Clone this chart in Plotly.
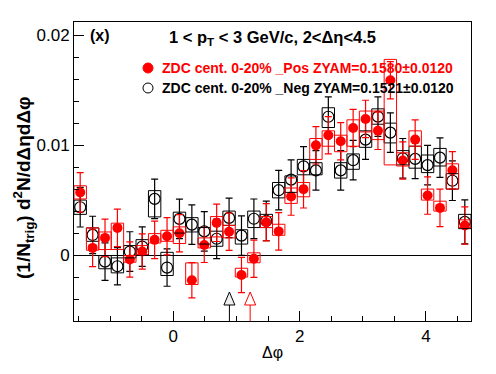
import numpy as np
import plotly.graph_objects as go

# ---- data ----
n_bins = 32
bin_edges = np.linspace(-np.pi / 2, 3 * np.pi / 2, n_bins + 1)
dphi = 0.5 * (bin_edges[:-1] + bin_edges[1:])

pos_y = [0.0057, 0.00065, 0.00156, 0.00247, -0.00041, 0.00032, 0.00138, 0.00171,
         0.00198, -0.00229, 0.00092, 0.00293, 0.00212, -0.00182, -0.00034, 0.00298,
         0.00215, 0.00532, 0.00598, 0.00998, 0.0109, 0.01035, 0.01156, 0.01238,
         0.0113, 0.0159, 0.0086, 0.0105, 0.00541, 0.00429, 0.00771, 0.00268]
pos_err = [0.0018, 0.0017, 0.0017, 0.0017, 0.0016, 0.0016, 0.0017, 0.0017,
           0.0017, 0.0016, 0.0016, 0.0017, 0.0017, 0.0016, 0.0017, 0.0017,
           0.0017, 0.0017, 0.0017, 0.0017, 0.0017, 0.0017, 0.0017, 0.0017,
           0.0017, 0.0017, 0.0017, 0.0018, 0.0017, 0.0017, 0.0017, 0.0017]
pos_sys_lo = [0.0051, 0.00044, 0.0005, 0.0005, -0.00065, 0.00005, 0.0011, 0.00125,
              0.00105, -0.00268, 0.00065, 0.00165, 0.00156, -0.002, -0.0007, 0.0025,
              0.0018, 0.0047, 0.0053, 0.0087, 0.0099, 0.0094, 0.0099, 0.0112,
              0.0105, 0.0082, 0.0081, 0.0099, 0.005, 0.004, 0.006, 0.0025]
pos_sys_hi = [0.0063, 0.00247, 0.0021, 0.0029, -0.00005, 0.00086, 0.00195, 0.00225,
              0.00256, -0.00071, 0.00156, 0.0035, 0.0027, -0.0012, 0.0002, 0.0035,
              0.0028, 0.0061, 0.0066, 0.0106, 0.0113, 0.0109, 0.0123, 0.0131,
              0.0131, 0.0178, 0.0093, 0.0113, 0.006, 0.0049, 0.0083, 0.0032]

neg_y = [0.00435, 0.00183, -0.0006, -0.00102, 0.00032, 0.00077, 0.00511, -0.00114,
         0.00329, 0.00277, 0.00215, 0.00148, 0.00338, 0.00177, 0.0033, 0.0031,
         0.0059, 0.00686, 0.00807, 0.0077, 0.01258, 0.0077, 0.00863, 0.0105,
         0.01259, 0.01114, 0.0088, 0.00875, 0.00818, 0.00886, 0.00676, 0.00302]
neg_err = [0.0018, 0.0017, 0.0017, 0.0017, 0.0018, 0.0018, 0.0018, 0.0017,
           0.0018, 0.0018, 0.0018, 0.0018, 0.0018, 0.0018, 0.0018, 0.0018,
           0.0018, 0.0018, 0.0018, 0.0018, 0.0018, 0.0018, 0.0018, 0.0018,
           0.0018, 0.0018, 0.0018, 0.0018, 0.0018, 0.0018, 0.0018, 0.002]
neg_sys_lo = [0.0037, 0.00125, -0.00125, -0.00162, -0.00026, 0.0, 0.00347, -0.00186,
              0.002, 0.0021, 0.001, 0.0008, 0.0027, 0.001, 0.0025, 0.0025,
              0.0052, 0.0057, 0.0073, 0.0073, 0.0116, 0.007, 0.0078, 0.0098,
              0.0119, 0.0102, 0.0082, 0.0079, 0.0075, 0.0081, 0.006, 0.0024]
neg_sys_hi = [0.005, 0.00247, -0.00005, -0.00026, 0.00086, 0.0014, 0.00586, 0.00025,
              0.0039, 0.0034, 0.0025, 0.00217, 0.004, 0.0023, 0.004, 0.0037,
              0.0066, 0.0072, 0.0087, 0.0084, 0.0134, 0.0084, 0.0092, 0.0113,
              0.0133, 0.012, 0.0095, 0.0099, 0.0091, 0.0097, 0.0074, 0.0037]

zyam_pos_x = 1.217
zyam_neg_x = 0.889

pos_label = "ZDC cent. 0-20% _Pos ZYAM=0.1580\u00b10.0120"
neg_label = "ZDC cent. 0-20% _Neg ZYAM=0.1521\u00b10.0120"

RED = "#ff0000"
BLK = "#000000"
FONT = "Liberation Sans"

# plot-area pixel geometry (relative to window), used for paper-fraction placement of text
PX0, PX1, PY0, PY1 = 74, 471, 22, 321


def px(x):
    return (x - PX0) / (PX1 - PX0)


def py(y):
    return (PY1 - y) / (PY1 - PY0)


fig = go.Figure()

shapes = []
half_w = (bin_edges[1] - bin_edges[0]) / 2
for xc, lo, hi in zip(dphi, neg_sys_lo, neg_sys_hi):
    shapes.append(dict(type="rect", xref="x", yref="y", x0=xc - half_w, x1=xc + half_w,
                       y0=lo, y1=hi, line=dict(color=BLK, width=1), fillcolor="rgba(0,0,0,0)",
                       layer="above"))
for xc, lo, hi in zip(dphi, pos_sys_lo, pos_sys_hi):
    shapes.append(dict(type="rect", xref="x", yref="y", x0=xc - half_w, x1=xc + half_w,
                       y0=lo, y1=hi, line=dict(color=RED, width=1), fillcolor="rgba(0,0,0,0)",
                       layer="above"))

# ZYAM arrows (line from axis up, then triangle)
for xz, col, fill in [(zyam_neg_x, BLK, "#eeeeee"), (zyam_pos_x, RED, "#ffffff")]:
    shapes.append(dict(type="path", xref="x", yref="paper", xsizemode="pixel", ysizemode="pixel",
                       xanchor=xz, yanchor=0, path="M0,0 L0,16",
                       line=dict(color=col, width=1)))
    shapes.append(dict(type="path", xref="x", yref="paper", xsizemode="pixel", ysizemode="pixel",
                       xanchor=xz, yanchor=0, path="M-5.5,16 L5.5,16 L0,29 Z",
                       line=dict(color=col, width=1), fillcolor=fill))

# legend markers
shapes.append(dict(type="circle", xref="paper", yref="paper", xsizemode="pixel", ysizemode="pixel",
                   xanchor=px(148), yanchor=py(68),
                   x0=-5, x1=5, y0=-5, y1=5, fillcolor=RED, line=dict(color=RED, width=1)))
shapes.append(dict(type="circle", xref="paper", yref="paper", xsizemode="pixel", ysizemode="pixel",
                   xanchor=px(148), yanchor=py(88),
                   x0=-5, x1=5, y0=-5, y1=5, fillcolor="rgba(0,0,0,0)", line=dict(color=BLK, width=1)))

fig.add_trace(go.Scatter(
    x=dphi, y=neg_y, mode="markers",
    marker=dict(symbol="circle-open", size=11, color=BLK, line=dict(width=1.2)),
    error_y=dict(type="data", array=neg_err, visible=True, color=BLK, thickness=1.2, width=3.5),
    showlegend=False))
fig.add_trace(go.Scatter(
    x=dphi, y=pos_y, mode="markers",
    marker=dict(symbol="circle", size=10, color=RED),
    error_y=dict(type="data", array=pos_err, visible=True, color=RED, thickness=1.2, width=3.5),
    showlegend=False))

annotations = [
    dict(text="<b>(x)</b>", xref="paper", yref="paper", x=px(88), y=py(36),
         xanchor="left", yanchor="middle", showarrow=False, font=dict(family=FONT, size=16, color=BLK)),
    dict(text="<b>1 < p<sub>T</sub> < 3 GeV/c, 2<\u0394\u03b7<4.5</b>", xref="paper", yref="paper",
         x=px(167), y=py(38), xanchor="left", yanchor="middle", showarrow=False,
         font=dict(family=FONT, size=16.5, color=BLK)),
    dict(text="<b>" + pos_label + "</b>", xref="paper", yref="paper", x=px(160),
         y=py(68), xanchor="left", yanchor="middle", showarrow=False,
         font=dict(family=FONT, size=14, color=RED)),
    dict(text="<b>" + neg_label + "</b>", xref="paper", yref="paper", x=px(160),
         y=py(88), xanchor="left", yanchor="middle", showarrow=False,
         font=dict(family=FONT, size=14, color=BLK)),
    dict(text="<b>(1/N<sub>trig</sub>) d<sup>2</sup>N/d\u0394\u03b7d\u0394\u03c6</b>", xref="paper",
         yref="paper", x=px(23), y=py(188), xanchor="center", yanchor="middle",
         textangle=-90, showarrow=False, font=dict(family=FONT, size=19, color=BLK)),
    dict(text="\u0394\u03c6", xref="paper", yref="paper", x=px(272), y=py(352),
         xanchor="center", yanchor="middle", showarrow=False, font=dict(family=FONT, size=16, color=BLK)),
]

# the page body has an 8px margin, so the figure is sized to fit the window inside it
fig.update_layout(
    width=488, height=366,
    margin=dict(l=PX0 - 8, r=496 - PX1, t=PY0 - 8, b=374 - PY1),
    paper_bgcolor="white", plot_bgcolor="white",
    font=dict(family=FONT, size=14, color=BLK),
    shapes=shapes, annotations=annotations, showlegend=False,
    xaxis=dict(range=[-np.pi / 2, 3 * np.pi / 2], tickvals=[0, 2, 4], ticktext=["0", "2", "4"],
               ticks="inside", ticklen=10, tickcolor=BLK, tickwidth=1,
               minor=dict(dtick=0.5, tick0=0, ticks="inside", ticklen=5, tickcolor=BLK, tickwidth=1),
               showline=True, linecolor=BLK, linewidth=1, mirror=True,
               showgrid=False, zeroline=False, tickfont=dict(size=17)),
    yaxis=dict(range=[-0.006, 0.0212], tickvals=[0, 0.01, 0.02], ticktext=["0", "0.01", "0.02"],
               ticks="inside", ticklen=10, tickcolor=BLK, tickwidth=1,
               minor=dict(dtick=0.002, tick0=0, ticks="inside", ticklen=5, tickcolor=BLK, tickwidth=1),
               showline=True, linecolor=BLK, linewidth=1, mirror=True,
               showgrid=False, zeroline=True, zerolinecolor=BLK, zerolinewidth=1,
               tickfont=dict(size=17)),
)

fig.write_html("out.html")
